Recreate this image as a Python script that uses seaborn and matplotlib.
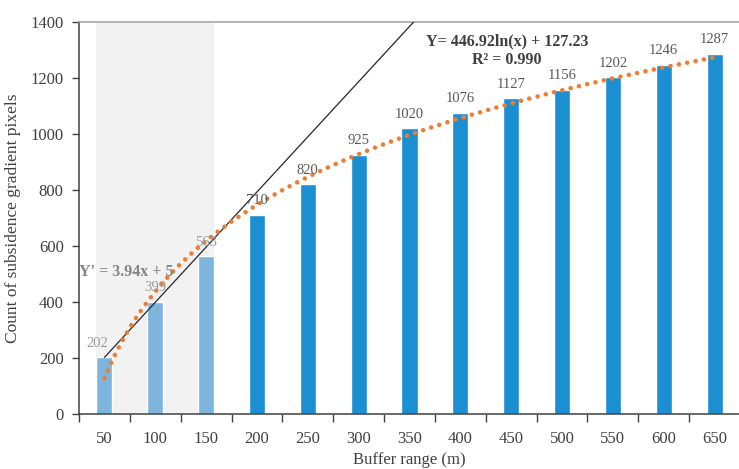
import numpy as np
import pandas as pd
import matplotlib
matplotlib.use("Agg")
import matplotlib.pyplot as plt
import seaborn as sns

# Buffer ranges (m) and pixel counts
buffer_m = [50, 100, 150, 200, 250, 300, 350, 400, 450, 500, 550, 600, 650]
counts = [202, 399, 563, 710, 820, 925, 1020, 1076, 1127, 1156, 1202, 1246, 1287]
group = ["near"] * 3 + ["far"] * 10

# Logarithmic trend (x = category index 1..13) and linear fit (x in metres)
log_a, log_b = 446.92, 127.23
lin_a, lin_b = 3.94, 5
r2_text = "R\u00b2 = 0.990"

sns.set_theme(style="white")
plt.rcParams["font.family"] = ["Liberation Serif", "DejaVu Serif"]

fig = plt.figure(figsize=(7.39, 4.69), dpi=100)
ax = fig.add_axes([79 / 739, 1 - 414 / 469, 661 / 739, 392 / 469])

df = pd.DataFrame({"buffer": [str(b) for b in buffer_m], "count": counts, "group": group})
palette = {"near": "#7DB5DC", "far": "#1B8FD2"}
bw = 0.315
sns.barplot(data=df, x="buffer", y="count", hue="group", palette=palette,
            dodge=False, width=bw, legend=False, ax=ax, zorder=2,
            saturation=1)

ax.axvspan(-bw / 2, 2 + bw / 2, color="#F2F2F2", zorder=0, lw=0)

# Linear fit line
xm = np.linspace(50, 400, 200)
ax.plot((xm - 50) / 50, lin_a * xm + lin_b, color="#262626", lw=0.9, zorder=3)

# Logarithmic trendline, round dotted
xi = np.linspace(1, 13, 400)
ax.plot(xi - 1, log_a * np.log(xi) + log_b, color="#ED7D31", lw=3.3,
        linestyle=(0, (0.01, 1.85)), dash_capstyle="round", zorder=4)

# Value labels
for i, v in enumerate(counts):
    col = "#9A9A9A" if i < 3 else "#595959"
    dx = -0.15 if i == 0 else 0
    ax.text(i + dx, v + 28, str(v), ha="center", va="bottom", fontsize=10.5,
            color=col, zorder=5)

ax.text(0.42, 507, "Y' = 3.94x + 5", ha="center", va="center",
        fontsize=11.5, color="#858585", fontweight="bold", zorder=5)
ax.text(7.92, 1332, "Y= 446.92ln(x) + 127.23", ha="center", va="center",
        fontsize=11.5, color="#3F3F3F", fontweight="bold", zorder=5)
ax.text(7.92, 1264, r2_text, ha="center", va="center",
        fontsize=11.5, color="#3F3F3F", fontweight="bold", zorder=5)

ax.set_xlim(-0.5, 12.5)
ax.set_ylim(0, 1400)
ax.set_yticks(np.arange(0, 1401, 200))
ax.set_xticks(range(len(buffer_m)))
ax.set_xticklabels([str(b) for b in buffer_m])
ax.set_xticks(np.arange(-0.5, 12.6, 1), minor=True)
ax.tick_params(axis="x", which="major", length=0, pad=12, labelsize=12, labelcolor="#404040")
ax.tick_params(axis="x", which="minor", length=6, width=1, color="#404040", direction="out", bottom=True)
ax.tick_params(axis="y", length=5, width=1, color="#404040", direction="out", left=True,
               labelsize=12, labelcolor="#404040", pad=6)

for s in ["left", "bottom"]:
    ax.spines[s].set_color("#404040")
    ax.spines[s].set_linewidth(1.1)
ax.spines["top"].set_color("#A6A6A6")
ax.spines["top"].set_linewidth(1.2)
ax.spines["right"].set_visible(False)

ax.set_xlabel("Buffer range (m)", fontsize=12, color="#404040", labelpad=4)
ax.set_ylabel("Count of subsidence gradient pixels", fontsize=12.5, color="#404040", labelpad=7)

fig.savefig("out.png", dpi=100)
